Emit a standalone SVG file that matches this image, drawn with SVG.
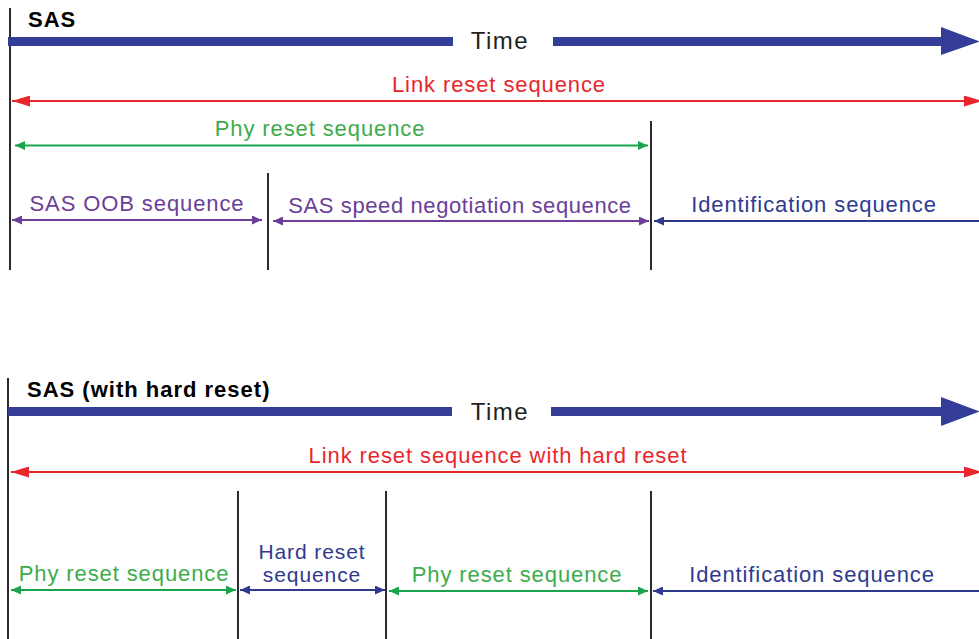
<svg xmlns="http://www.w3.org/2000/svg" width="979" height="639" viewBox="0 0 979 639">
<defs>
<style>
text{font-family:"Liberation Sans",Arial,sans-serif;font-size:22px;letter-spacing:0.9px;text-anchor:middle}
.title{font-weight:bold;text-anchor:start;letter-spacing:1px}
.time{font-size:24px;letter-spacing:1.5px;fill:#231f20}
.two{font-size:21px}
.tight{letter-spacing:0.6px}
.bar{fill:#333c96}
.vl{stroke:#2b2b2b;stroke-width:2}
.red{stroke:#e8262b;stroke-width:2;fill:none;marker-start:url(#mr);marker-end:url(#mr)}
.grn{stroke:#19a54d;stroke-width:2;fill:none;marker-start:url(#mg);marker-end:url(#mg)}
.pur{stroke:#6b3e98;stroke-width:2;fill:none;marker-start:url(#mp);marker-end:url(#mp)}
.nav{stroke:#2f3a8f;stroke-width:2;fill:none;marker-start:url(#mn);marker-end:url(#mn)}
.tr{fill:#e8262b}.tg{fill:#3dac4b}.tp{fill:#6b3e98}.tn{fill:#2f3a8f}
</style>
<marker id="mr" markerUnits="userSpaceOnUse" markerWidth="19" markerHeight="11" refX="18" refY="5.5" orient="auto-start-reverse"><path d="M0,0 L18,5.5 L0,11 z" fill="#e8262b"/></marker>
<marker id="mg" markerUnits="userSpaceOnUse" markerWidth="11" markerHeight="9" refX="10" refY="4.5" orient="auto-start-reverse"><path d="M0,0 L10,4.5 L0,9 z" fill="#19a54d"/></marker>
<marker id="mp" markerUnits="userSpaceOnUse" markerWidth="11" markerHeight="9" refX="10" refY="4.5" orient="auto-start-reverse"><path d="M0,0 L10,4.5 L0,9 z" fill="#6b3e98"/></marker>
<marker id="mn" markerUnits="userSpaceOnUse" markerWidth="11" markerHeight="9" refX="10" refY="4.5" orient="auto-start-reverse"><path d="M0,0 L10,4.5 L0,9 z" fill="#2f3a8f"/></marker>
</defs>
<rect width="979" height="639" fill="#fff"/>

<g id="top-section">
  <g id="top-axis">
    <line class="vl" x1="10" y1="8" x2="10" y2="270"/>
    <text class="title" x="28" y="27">SAS</text>
    <rect class="bar" x="8" y="37" width="445" height="9"/>
    <polygon class="bar" points="553,37 941,37 941,27 980,41.5 941,55 941,46 553,46"/>
    <text class="time" x="500" y="49">Time</text>
  </g>
  <g id="top-dividers">
    <line class="vl" x1="268" y1="173" x2="268" y2="270"/>
    <line class="vl" x1="651" y1="121" x2="651" y2="270"/>
  </g>
  <g id="top-link-reset"><text class="tr" x="499" y="92">Link reset sequence</text></g>
  <g id="top-phy-reset"><text class="tg" x="320" y="136">Phy reset sequence</text></g>
  <g id="top-oob"><text class="tp" x="137" y="211">SAS OOB sequence</text></g>
  <g id="top-speed"><text class="tp tight" x="460" y="213">SAS speed negotiation sequence</text></g>
  <g id="top-ident"><text class="tn" x="814" y="212">Identification sequence</text></g>
</g>

<g id="bottom-section">
  <g id="bottom-axis">
    <line class="vl" x1="8" y1="378" x2="8" y2="639"/>
    <text class="title" x="27" y="397">SAS (with hard reset)</text>
    <rect class="bar" x="8" y="407" width="444" height="9"/>
    <polygon class="bar" points="551,407 941,407 941,397 980,411.5 941,426 941,416 551,416"/>
    <text class="time" x="500" y="420">Time</text>
  </g>
  <g id="bottom-dividers">
    <line class="vl" x1="238" y1="491" x2="238" y2="639"/>
    <line class="vl" x1="386" y1="491" x2="386" y2="639"/>
    <line class="vl" x1="651" y1="491" x2="651" y2="639"/>
  </g>
  <g id="bottom-link-reset"><text class="tr" x="498" y="463">Link reset sequence with hard reset</text></g>
  <g id="bottom-phy1"><text class="tg" x="124" y="581">Phy reset sequence</text></g>
  <g id="bottom-hard"><text class="tn two" x="312" y="559">Hard reset</text><text class="tn two" x="312" y="582">sequence</text></g>
  <g id="bottom-phy2"><text class="tg" x="517" y="582">Phy reset sequence</text></g>
  <g id="bottom-ident"><text class="tn" x="812" y="582">Identification sequence</text></g>
</g>

<g id="connectors">
  <line class="red" x1="12" y1="101" x2="982" y2="101"/>
  <line class="grn" x1="15" y1="145.5" x2="648" y2="145.5"/>
  <line class="pur" x1="12" y1="220" x2="262" y2="220"/>
  <line class="pur" x1="273" y1="221" x2="649" y2="221"/>
  <line class="nav" x1="654" y1="221" x2="989" y2="221"/>
  <line class="red" x1="11" y1="472" x2="982" y2="472"/>
  <line class="grn" x1="11" y1="590" x2="236" y2="590"/>
  <line class="nav" x1="240" y1="590" x2="385" y2="590"/>
  <line class="grn" x1="389" y1="591" x2="648" y2="591"/>
  <line class="nav" x1="653" y1="591" x2="989" y2="591"/>
</g>
</svg>
